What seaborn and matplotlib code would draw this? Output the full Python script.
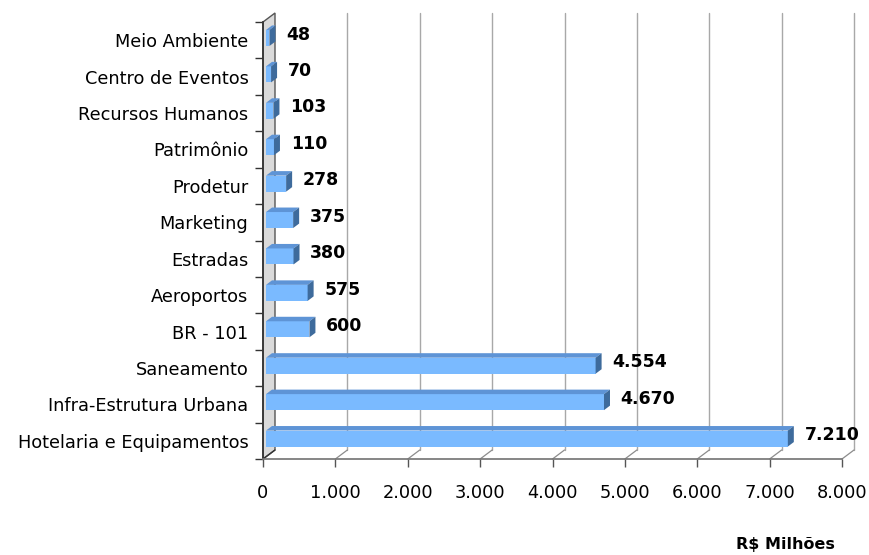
import matplotlib
matplotlib.use("Agg")
import matplotlib.pyplot as plt
from matplotlib.patches import Polygon
import seaborn as sns
import pandas as pd

# Investment by sector (R$ millions), listed top to bottom
categories = [
    "Meio Ambiente", "Centro de Eventos", "Recursos Humanos", "Patrimônio",
    "Prodetur", "Marketing", "Estradas", "Aeroportos", "BR - 101",
    "Saneamento", "Infra-Estrutura Urbana", "Hotelaria e Equipamentos",
]
values = [48, 70, 103, 110, 278, 375, 380, 575, 600, 4554, 4670, 7210]
x_ticks = [0, 1000, 2000, 3000, 4000, 5000, 6000, 7000, 8000]
x_tick_labels = ["0", "1.000", "2.000", "3.000", "4.000", "5.000", "6.000", "7.000", "8.000"]
unit_label = "R$ Milhões"

sns.set_theme(style="white")
plt.rcParams["font.family"] = ["DejaVu Sans"]

W, H = 869, 555
fig = plt.figure(figsize=(W / 100, H / 100), dpi=100)
ax_l, ax_r, ax_t, ax_b = 263, 842, 22, 459
ax = fig.add_axes([ax_l / W, 1 - ax_b / H, (ax_r - ax_l) / W, (ax_b - ax_t) / H])

df = pd.DataFrame({"setor": categories, "valor": values})
n = len(categories)
xmax = x_ticks[-1]

FRONT = "#7ABAFF"
TOP = "#5E94D6"
SIDE = "#3E6B9C"

sns.barplot(data=df, y="setor", x="valor", order=categories, orient="h",
            color=FRONT, saturation=1, width=0.44, ax=ax, zorder=3)
ax.set_xlim(0, xmax)
ax.set_ylim(n - 0.5, -0.5)

# pixel -> data conversions for the 3D depth effect
px_x = (ax_r - ax_l) / xmax
px_y = (ax_b - ax_t) / n
def off(dx_px, dy_px):
    return dx_px / px_x, -dy_px / px_y

DEPTH_X, DEPTH_Y = 12, 9
wdx, wdy = off(DEPTH_X, DEPTH_Y)
fdx, fdy = off(DEPTH_X * 0.25, DEPTH_Y * 0.25)
bdx, bdy = off(DEPTH_X * 0.75, DEPTH_Y * 0.75)

y_bot, y_top = n - 0.5, -0.5

# side wall
wall = Polygon([(0, y_bot), (0, y_top), (wdx, y_top + wdy), (wdx, y_bot + wdy)],
               closed=True, facecolor="#DADADA", edgecolor="#555555", lw=1,
               clip_on=False, zorder=1)
ax.add_patch(wall)

# back-wall gridlines and floor lines
for t in x_ticks[1:]:
    ax.plot([t + wdx, t + wdx], [y_bot + wdy, y_top + wdy], color="#A8A8A8",
            lw=1, clip_on=False, zorder=0.5)
    ax.plot([t, t + wdx], [y_bot, y_bot + wdy], color="#8C8C8C",
            lw=0.9, clip_on=False, zorder=0.5)
ax.plot([0, wdx], [y_bot, y_bot + wdy], color="#333333", lw=1, clip_on=False, zorder=2)

# shift the bar faces into depth and add top / side faces
for p in list(ax.patches):
    if p is wall:
        continue
    x0, y0 = p.get_x(), p.get_y()
    w, h = p.get_width(), p.get_height()
    if h == 0:
        continue
    p.set_x(x0 + fdx)
    p.set_y(y0 + fdy)
    p.set_edgecolor("none")
    p.set_clip_on(False)
    fx0, fy0 = x0 + fdx, y0 + fdy            # front face, top-left corner (data)
    fx1, fy1 = fx0 + w, fy0 + h
    top = Polygon([(fx0, fy0), (fx1, fy0), (fx1 + (bdx - fdx), fy0 + (bdy - fdy)),
                   (fx0 + (bdx - fdx), fy0 + (bdy - fdy))],
                  closed=True, facecolor=TOP, edgecolor="none", clip_on=False, zorder=3)
    side = Polygon([(fx1, fy0), (fx1 + (bdx - fdx), fy0 + (bdy - fdy)),
                    (fx1 + (bdx - fdx), fy1 + (bdy - fdy)), (fx1, fy1)],
                   closed=True, facecolor=SIDE, edgecolor="none", clip_on=False, zorder=3)
    ax.add_patch(top)
    ax.add_patch(side)

# value labels
for i, v in enumerate(values):
    ax.annotate(f"{v:,}".replace(",", "."), xy=(v + fdx, i), xytext=(12, 4),
                textcoords="offset points", ha="left", va="center",
                fontsize=12.5, fontweight="bold", color="black", annotation_clip=False)

# axes styling
for s in ["top", "right"]:
    ax.spines[s].set_visible(False)
ax.spines["left"].set_color("#333333")
ax.spines["bottom"].set_color("#777777")
ax.spines["left"].set_zorder(2)

ax.set_xticks(x_ticks, x_tick_labels)
ax.tick_params(axis="x", length=6, width=1, color="#555555", pad=12,
               labelsize=12.8, labelcolor="black", direction="out", bottom=True)
ax.set_yticks(range(n), categories)
ax.tick_params(axis="y", which="major", length=0, pad=10.5, labelsize=12.8,
               labelcolor="black")
ax.set_yticks([i - 0.5 for i in range(n + 1)], minor=True)
ax.tick_params(axis="y", which="minor", length=6, width=1, color="#333333",
               direction="out", left=True)
ax.set_xlabel("")
ax.set_ylabel("")
ax.grid(False)

fig.text(835 / W, 1 - 544 / H, unit_label, ha="right", va="center",
         fontsize=11.5, fontweight="bold", color="black")

fig.savefig("out.png", dpi=100)
